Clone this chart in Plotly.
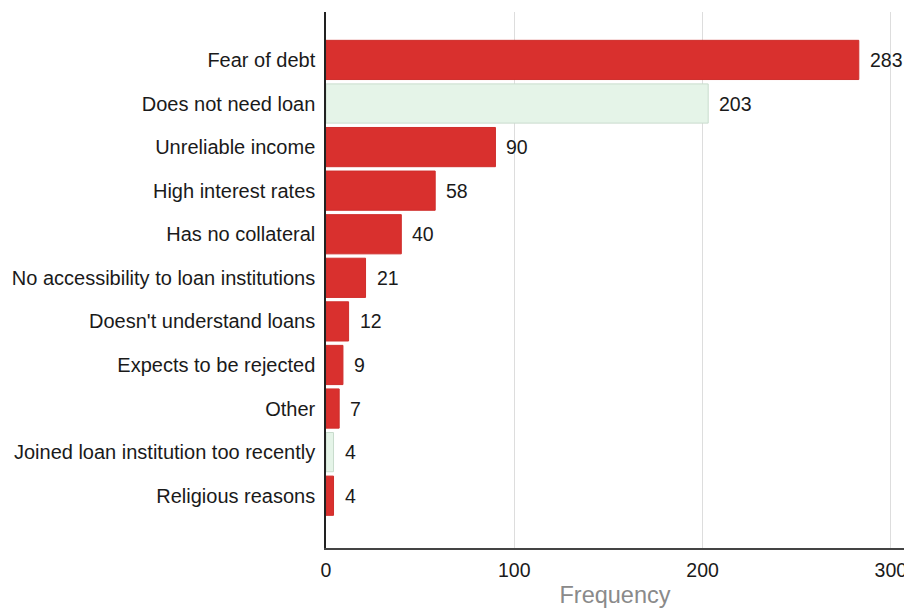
import plotly.graph_objects as go

categories = [
    "Fear of debt",
    "Does not need loan",
    "Unreliable income",
    "High interest rates",
    "Has no collateral",
    "No accessibility to loan institutions",
    "Doesn't understand loans",
    "Expects to be rejected",
    "Other",
    "Joined loan institution too recently",
    "Religious reasons",
]
values = [283, 203, 90, 58, 40, 21, 12, 9, 7, 4, 4]
group = ["red", "green", "red", "red", "red", "red", "red", "red", "red", "green", "red"]
x_ticks = [0, 100, 200, 300]

fill_map = {"red": "#d9302e", "green": "#e5f4e8"}
line_map = {"red": "#cf2e2c", "green": "#c9dccd"}

FONT = "Liberation Sans, Arial, sans-serif"

fig = go.Figure()
fig.add_trace(go.Bar(
    x=values,
    y=categories,
    orientation="h",
    width=0.9,
    marker=dict(
        color=[fill_map[g] for g in group],
        line=dict(color=[line_map[g] for g in group], width=1),
    ),
    showlegend=False,
    hoverinfo="x+y",
))

for c, v in zip(categories, values):
    fig.add_annotation(
        x=v, y=c, text=str(v), showarrow=False,
        xanchor="left", xshift=9, yshift=0,
        font=dict(family=FONT, size=19.5, color="#1a1a1a"),
    )

fig.update_layout(
    width=904, height=610,
    margin=dict(l=326, r=0, t=12, b=62, autoexpand=False),
    plot_bgcolor="white", paper_bgcolor="white",
    font=dict(family=FONT, size=19.5, color="#1a1a1a"),
    xaxis=dict(
        range=[0, 307],
        tickvals=x_ticks,
        automargin=False,
        showgrid=True, gridcolor="#dddddd", gridwidth=1,
        zeroline=False,
        showline=True, linecolor="#444", linewidth=1.5,
        ticks="", ticklen=0, ticklabelstandoff=4,
        ticklabeloverflow="allow",
        tickfont=dict(size=19.5, color="#1a1a1a"),
        title=dict(text="Frequency", font=dict(size=23.5, color="#8a8a8a"), standoff=6),
    ),
    yaxis=dict(
        categoryorder="array", categoryarray=categories,
        range=[len(categories) - 1 + 1.2, -1.1],
        automargin=False,
        showgrid=False, zeroline=False,
        showline=True, linecolor="#222", linewidth=1.5,
        ticks="", ticklabelstandoff=5,
        tickfont=dict(size=20, color="#1a1a1a"),
    ),
)

fig.write_html(
    "out.html",
    config={"displayModeBar": False},
    post_script="document.body.style.margin='0';document.body.style.overflow='hidden';",
)
